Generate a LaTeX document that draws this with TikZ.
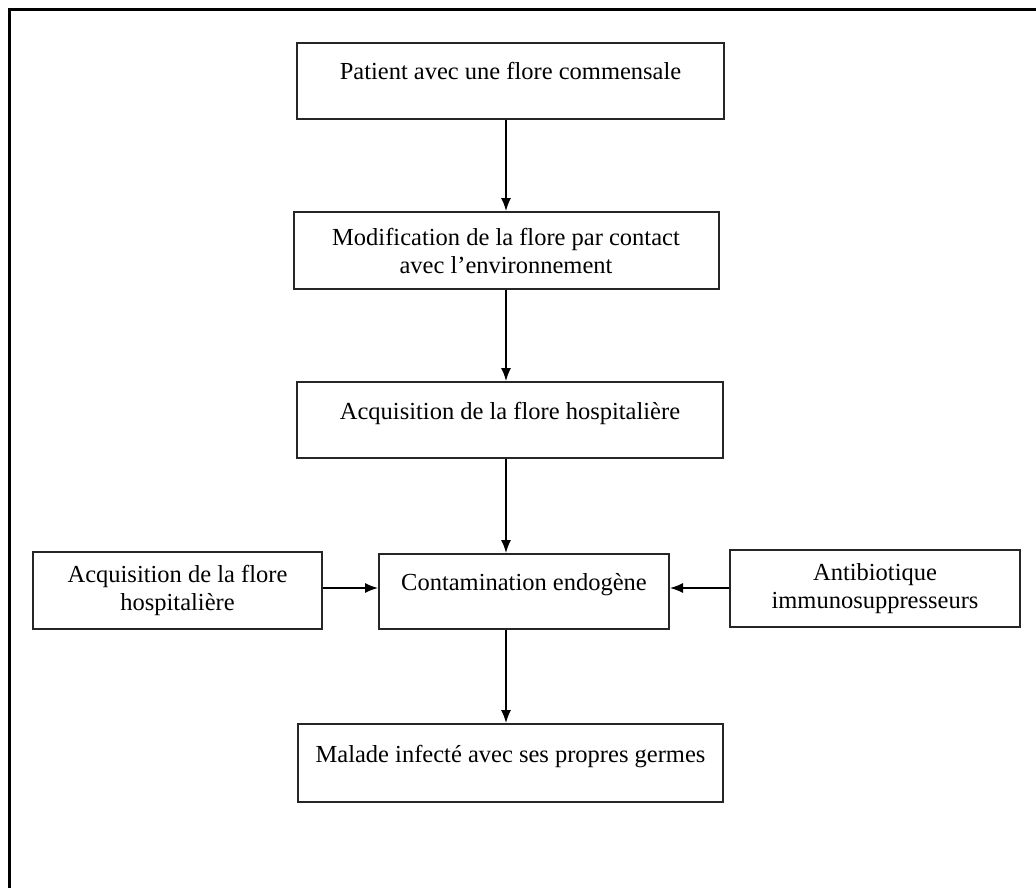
\documentclass[tikz,border=0pt]{standalone}
\usepackage{fontspec}
\setmainfont{Liberation Serif}
\usepackage{tikz}
\usetikzlibrary{arrows.meta,positioning}

\begin{document}
\begin{tikzpicture}[x=1pt,y=-1pt,
  boite/.style={draw=black!85,line width=2pt,rectangle,align=center,inner sep=2pt,
    font=\fontsize{24.5}{28}\selectfont},
  haut/.style={text height=17pt,text depth=19pt},
  fl/.style={line width=1.4pt,-{Latex[length=13pt,width=10pt]}}]
  \useasboundingbox (0,0) rectangle (1036,888);
  % cadre
  \draw[line width=3pt] (9,888) -- (9,10) -- (1036,10);
  \coordinate (axe) at (506,0);
  \node[boite,haut,minimum width=427pt,minimum height=76pt] (patient) at (510.5,81) {Patient avec une flore commensale};
  \node[boite,minimum width=425pt,minimum height=77pt] (modif) at (506,250.5) {Modification de la flore par contact\\avec l'environnement};
  \node[boite,haut,minimum width=426pt,minimum height=76pt] (acqui) at (510,420) {Acquisition de la flore hospitalière};
  \node[boite,haut,minimum width=290pt,minimum height=75pt] (contam) at (524,591.5) {Contamination endogène};
  \node[boite,minimum width=289pt,minimum height=77pt] (acqgauche) at (177.5,590.5) {Acquisition de la flore\\hospitalière};
  \node[boite,minimum width=290pt,minimum height=77pt] (antib) at (875,588.5) {Antibiotique\\immunosuppresseurs};
  \node[boite,haut,minimum width=425pt,minimum height=78pt] (malade) at (510.5,763) {Malade infecté avec ses propres germes};
  % fleches
  \draw[fl] (patient.south -| axe) -- (modif.north -| axe);
  \draw[fl] (modif.south -| axe) -- (acqui.north -| axe);
  \draw[fl] (acqui.south -| axe) -- (contam.north -| axe);
  \draw[fl] (contam.south -| axe) -- (malade.north -| axe);
  \draw[fl] (acqgauche.east |- 0,588) -- (contam.west |- 0,588);
  \draw[fl] (antib.west |- 0,588) -- (contam.east |- 0,588);
\end{tikzpicture}
\end{document}
